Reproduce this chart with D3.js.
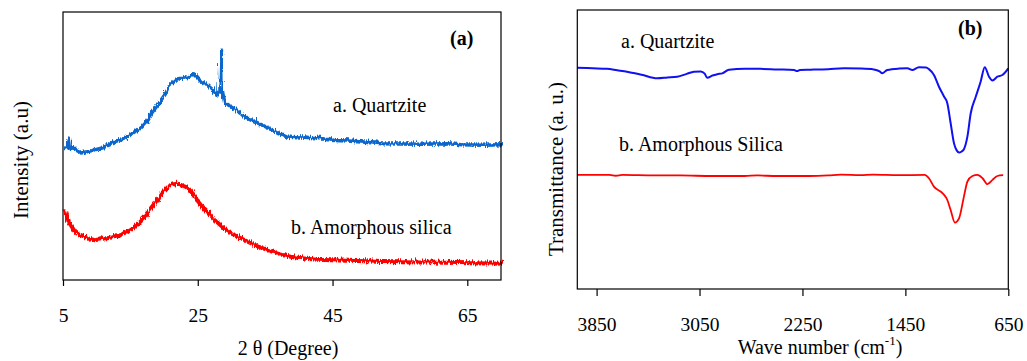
<!DOCTYPE html>
<html>
<head>
<meta charset="utf-8">
<script src="https://cdn.jsdelivr.net/npm/d3@7"></script>
<style>
  html, body { margin: 0; padding: 0; background: #fff; }
  svg { display: block; }
  text { font-family: "Liberation Serif", "Times New Roman", serif; fill: #000; }
</style>
</head>
<body>
<script>
// ---------- DATA ----------
// Panel (a): XRD, 2-theta (degree) vs intensity (a.u.)
const xrdTicks = [5, 25, 45, 65];
const xrdQuartzite = [
  [5.0, 49.5], [5.4, 50.5], [5.64, 53.0], [5.8, 49.8], [6.3, 50.2], [6.8, 49.0],
  [7.5, 48.2], [8.3, 48.6], [9.4, 49.3], [10.5, 50.0], [12.0, 51.6], [13.2, 52.8],
  [14.4, 54.1], [15.4, 55.8], [16.4, 57.8], [17.2, 60.0], [17.9, 62.8], [18.7, 65.5],
  [19.4, 68.4], [20.0, 70.5], [20.4, 72.8], [21.0, 74.0], [21.8, 75.9], [22.6, 76.0],
  [23.3, 76.5], [24.1, 77.7], [24.6, 76.2], [25.3, 74.6], [26.1, 73.8], [26.9, 72.1],
  [27.5, 69.8], [28.0, 71.0], [28.2, 86.5], [28.3, 72.0], [28.7, 66.5], [29.3, 66.0],
  [30.2, 64.7], [31.2, 62.5], [32.2, 60.9], [33.2, 59.8], [34.2, 58.6], [35.5, 57.0],
  [36.7, 55.3], [37.9, 54.1], [39.5, 53.8], [41.0, 53.6], [43.1, 53.5], [45.0, 52.8],
  [47.0, 52.6], [49.5, 52.2], [52.0, 51.6], [55.0, 51.5], [58.0, 51.4], [61.8, 51.6],
  [64.0, 51.2], [67.0, 51.0], [70.0, 51.2]
];
const xrdAmorphous = [
  [5.0, 26.8], [5.55, 22.4], [6.5, 18.7], [7.2, 17.3], [8.0, 16.5], [9.5, 15.6],
  [11.0, 16.2], [12.45, 16.8], [13.9, 18.0], [15.4, 20.5], [16.9, 24.3], [17.6, 26.6],
  [18.4, 29.2], [19.4, 32.9], [20.4, 35.4], [21.0, 36.3], [21.6, 36.7], [22.3, 36.1],
  [23.0, 35.4], [23.6, 34.2], [24.2, 32.0], [24.8, 29.9], [25.5, 27.6], [26.3, 25.5],
  [27.0, 23.5], [27.8, 21.8], [28.5, 20.2], [29.3, 18.7], [30.2, 17.4], [31.2, 16.2],
  [32.2, 14.9], [33.2, 13.7], [34.2, 12.7], [35.2, 11.8], [36.9, 10.3], [38.5, 9.4],
  [40.5, 8.8], [42.5, 8.3], [44.6, 8.1], [47.0, 7.9], [49.5, 7.7], [52.0, 7.5],
  [55.0, 7.4], [58.0, 7.3], [61.8, 7.2], [65.0, 7.0], [68.0, 6.9], [70.0, 6.8]
];

// Panel (b): FTIR, wave number (cm-1) vs transmittance (a.u.)
const ftirTicks = [3850, 3050, 2250, 1450, 650];
const ftirQuartzite = [
  [4000, 79.3], [3880, 79.1], [3769, 78.9], [3690, 78.4], [3613, 77.9], [3500, 76.8],
  [3379, 75.5], [3300, 75.8], [3224, 76.1], [3150, 77.1], [3094, 77.9], [3040, 78.0],
  [3010, 77.2], [2990, 75.7], [2950, 76.5], [2912, 77.0], [2873, 77.3], [2821, 78.6],
  [2700, 78.9], [2578, 78.9], [2450, 78.7], [2315, 78.5], [2292, 78.1], [2270, 78.5],
  [2188, 78.6], [2050, 78.8], [1926, 79.1], [1799, 79.0], [1695, 78.7], [1650, 78.0],
  [1630, 77.3], [1591, 78.5], [1500, 79.0], [1435, 79.1], [1396, 78.5], [1345, 79.5],
  [1290, 79.4], [1267, 78.8], [1228, 76.7], [1189, 72.5], [1150, 69.0], [1124, 66.6],
  [1098, 59.4], [1072, 52.2], [1050, 49.6], [1033, 48.9], [1015, 49.2], [995, 50.1],
  [968, 54.6], [942, 63.0], [903, 68.9], [865, 74.3], [833, 79.5], [800, 76.1],
  [773, 74.7], [735, 76.1], [696, 76.7], [650, 79.1]
];
const ftirAmorphous = [
  [4000, 40.9], [3750, 40.9], [3700, 40.6], [3650, 40.9], [3400, 40.7], [3200, 40.7],
  [2950, 40.5], [2700, 40.5], [2600, 40.7], [2450, 40.5], [2200, 40.5], [2050, 40.7],
  [1950, 41.0], [1800, 40.8], [1700, 41.0], [1500, 40.8], [1300, 40.9], [1267, 39.7],
  [1228, 36.7], [1160, 34.3], [1124, 31.9], [1098, 28.3], [1065, 23.8], [1033, 25.3],
  [995, 33.1], [968, 38.5], [929, 40.5], [890, 40.9], [850, 39.7], [812, 37.6],
  [773, 39.1], [735, 40.5], [690, 40.8]
];

// ---------- DRAW ----------
const W = 1027, H = 361;
const svg = d3.select("body").append("svg").attr("width", W).attr("height", H);

// texture filter giving the XRD traces their grainy, counting-noise look
const defs = svg.append("defs");
const f = defs.append("filter").attr("id", "grain")
  .attr("x", "-5%").attr("y", "-20%").attr("width", "110%").attr("height", "140%");
f.append("feTurbulence").attr("type", "turbulence")
  .attr("baseFrequency", "0.9 0.04").attr("numOctaves", 1).attr("seed", 3).attr("result", "t");
f.append("feDisplacementMap").attr("in", "SourceGraphic").attr("in2", "t")
  .attr("scale", 5).attr("xChannelSelector", "B").attr("yChannelSelector", "G");

function panel(o) {
  const g = svg.append("g");
  const x = d3.scaleLinear().domain(o.xDomain).range([o.left, o.right]);
  const y = d3.scaleLinear().domain([0, 100]).range([o.bottom, o.top]);

  o.series.forEach(s => {
    const p = g.append("path")
      .datum(s.data)
      .attr("fill", "none")
      .attr("stroke", s.color)
      .attr("stroke-width", s.width)
      .attr("stroke-linejoin", "round")
      .attr("d", d3.line().x(d => x(d[0])).y(d => y(d[1])).curve(s.curve)(s.data));
    if (s.grain) p.attr("filter", "url(#grain)");
  });

  g.append("rect")
    .attr("x", o.left).attr("y", o.top)
    .attr("width", o.right - o.left).attr("height", o.bottom - o.top)
    .attr("fill", "none").attr("stroke", "#000").attr("stroke-width", 1.2);

  const ax = g.append("g")
    .attr("transform", `translate(0,${o.bottom})`)
    .call(d3.axisBottom(x).tickValues(o.ticks).tickSize(o.tickLen).tickPadding(o.tickPad).tickFormat(d3.format("d")));
  ax.select(".domain").remove();
  ax.selectAll("line").attr("stroke", "#000").attr("stroke-width", 1.2);
  ax.selectAll("text")
    .attr("font-family", '"Liberation Serif", "Times New Roman", serif')
    .attr("font-size", 19.5).attr("fill", "#000");

  return { g, x, y };
}

panel({
  left: 63, right: 501, top: 12, bottom: 280,
  xDomain: [5, 70], ticks: xrdTicks, tickLen: 6, tickPad: 22,
  series: [
    { data: xrdQuartzite, color: "#0866cc", width: 3.6, curve: d3.curveLinear, grain: true },
    { data: xrdAmorphous, color: "#ff0000", width: 4, curve: d3.curveLinear, grain: true }
  ]
});

panel({
  left: 577.3, right: 1008.3, top: 10, bottom: 289,
  xDomain: [4000, 650], ticks: ftirTicks, tickLen: 7, tickPad: 21,
  series: [
    { data: ftirQuartzite, color: "#1010f0", width: 2, curve: d3.curveMonotoneX },
    { data: ftirAmorphous, color: "#ff0000", width: 1.8, curve: d3.curveMonotoneX }
  ]
});

function label(txt, xPos, yPos, opts = {}) {
  return svg.append("text")
    .attr("x", xPos).attr("y", yPos)
    .attr("font-size", opts.size || 20)
    .attr("font-weight", opts.bold ? "bold" : "normal")
    .attr("text-anchor", opts.anchor || "start")
    .text(txt);
}

label("(a)", 450, 45, { bold: true });
label("a. Quartzite", 333, 112);
label("b. Amorphous silica", 291, 234);
label("2 θ (Degree)", 288, 355, { anchor: "middle" });
svg.append("text")
  .attr("transform", "translate(28,160) rotate(-90)")
  .attr("text-anchor", "middle").attr("font-size", 21)
  .text("Intensity (a.u)");

label("(b)", 958, 35, { bold: true });
label("a. Quartzite", 621, 48);
label("b. Amorphous Silica", 619, 151);
const t = svg.append("text")
  .attr("x", 820).attr("y", 354)
  .attr("text-anchor", "middle").attr("font-size", 20);
t.append("tspan").text("Wave number (cm");
t.append("tspan").attr("font-size", 13).attr("dy", -9).text("-1");
t.append("tspan").attr("dy", 9).text(")");
svg.append("text")
  .attr("transform", "translate(563,169) rotate(-90)")
  .attr("text-anchor", "middle").attr("font-size", 21)
  .text("Transmittance (a. u.)");
</script>
</body>
</html>
